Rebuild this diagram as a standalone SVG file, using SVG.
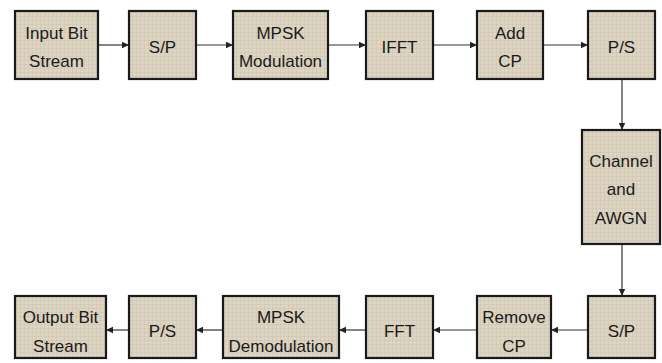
<svg xmlns="http://www.w3.org/2000/svg" width="662" height="363" viewBox="0 0 662 363">
<defs>
<pattern id="tex" width="4" height="4" patternUnits="userSpaceOnUse">
<rect width="4" height="4" fill="#ddd4c2"/>
<path d="M0 0.5H4M0.5 0V4" stroke="#cfc5b1" stroke-width="0.6"/>
</pattern>
<marker id="ah" markerWidth="8" markerHeight="8" refX="7" refY="4" orient="auto" markerUnits="userSpaceOnUse">
<path d="M0 0.8L7 4L0 7.2Z" fill="#222"/>
</marker>
<style>
.box{fill:url(#tex);stroke:#1a1a1a;stroke-width:2.2}
.t{font-family:"Liberation Sans",Arial,sans-serif;font-size:17px;fill:#1a1a1a;text-anchor:middle}
.c{stroke:#333;stroke-width:1.2;fill:none;marker-end:url(#ah)}
</style>
</defs>
<rect width="662" height="363" fill="#fff"/>
<g id="connectors">
<line class="c" x1="98" y1="45" x2="129" y2="45"/>
<line class="c" x1="196" y1="45" x2="233" y2="45"/>
<line class="c" x1="328" y1="45" x2="366" y2="45"/>
<line class="c" x1="433" y1="45" x2="477" y2="45"/>
<line class="c" x1="543" y1="45" x2="588" y2="45"/>
<line class="c" x1="622" y1="79" x2="622" y2="130"/>
<line class="c" x1="622" y1="244" x2="622" y2="296"/>
<line class="c" x1="588" y1="330" x2="551" y2="330"/>
<line class="c" x1="477" y1="330" x2="433" y2="330"/>
<line class="c" x1="366" y1="330" x2="339" y2="330"/>
<line class="c" x1="223" y1="330" x2="196" y2="330"/>
<line class="c" x1="129" y1="330" x2="106" y2="330"/>
</g>
<g id="input"><rect class="box" x="15" y="11" width="83" height="68"/><text class="t" x="56.5" y="39">Input Bit</text><text class="t" x="56.5" y="67">Stream</text></g>
<g id="sp1"><rect class="box" x="129" y="11" width="67" height="68"/><text class="t" x="162.5" y="53">S/P</text></g>
<g id="mod"><rect class="box" x="233" y="11" width="95" height="68"/><text class="t" x="280.5" y="39">MPSK</text><text class="t" x="280.5" y="67">Modulation</text></g>
<g id="ifft"><rect class="box" x="366" y="11" width="67" height="68"/><text class="t" x="399.5" y="53">IFFT</text></g>
<g id="addcp"><rect class="box" x="477" y="11" width="66" height="68"/><text class="t" x="510" y="39">Add</text><text class="t" x="510" y="67">CP</text></g>
<g id="ps1"><rect class="box" x="588" y="11" width="67" height="68"/><text class="t" x="621.5" y="53">P/S</text></g>
<g id="channel"><rect class="box" x="582" y="130" width="78" height="114"/><text class="t" x="621" y="167">Channel</text><text class="t" x="621" y="195">and</text><text class="t" x="621" y="224">AWGN</text></g>
<g id="sp2"><rect class="box" x="588" y="296" width="67" height="62"/><text class="t" x="621.5" y="337">S/P</text></g>
<g id="remcp"><rect class="box" x="477" y="296" width="74" height="62"/><text class="t" x="514" y="323">Remove</text><text class="t" x="514" y="352">CP</text></g>
<g id="fft"><rect class="box" x="366" y="296" width="67" height="62"/><text class="t" x="399.5" y="337">FFT</text></g>
<g id="demod"><rect class="box" x="223" y="296" width="116" height="62"/><text class="t" x="281" y="323">MPSK</text><text class="t" x="281" y="352">Demodulation</text></g>
<g id="ps2"><rect class="box" x="129" y="296" width="67" height="62"/><text class="t" x="162.5" y="337">P/S</text></g>
<g id="output"><rect class="box" x="15" y="296" width="91" height="62"/><text class="t" x="60.5" y="323">Output Bit</text><text class="t" x="60.5" y="352">Stream</text></g>
</svg>
